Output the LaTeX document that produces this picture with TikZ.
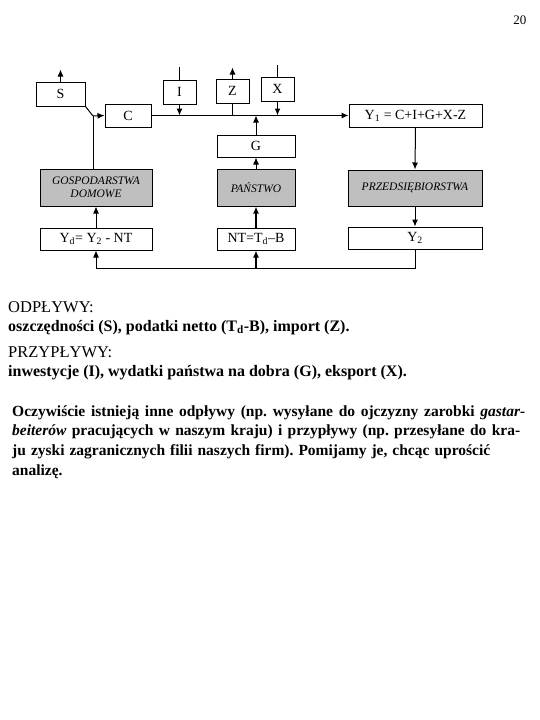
\documentclass[tikz,border=0pt]{standalone}
\usepackage{fontspec}
\setmainfont{Liberation Serif}
\usepackage{tikz}
\usetikzlibrary{arrows.meta,positioning}
\tikzset{>={Latex[length=7pt,width=6pt]}}
\frenchspacing

\begin{document}
\begin{tikzpicture}[x=1pt,y=-1pt,
                    box/.style={draw, line width=1pt, inner sep=0pt, font=\fontsize{14}{14}\selectfont},
                    sector/.style={box, fill=black!25, align=center, font=\fontsize{11.5}{13}\selectfont\itshape},
                    wire/.style={line width=1pt},
                    flow/.style={line width=1pt,->},
                    boldflow/.style={line width=1.8pt,->},
                    txt/.style={anchor=base west, inner sep=0pt, font=\fontsize{16.5}{16.5}\selectfont},
                    btxt/.style={txt, font=\fontsize{16}{16}\selectfont\bfseries},
                    ntxt/.style={txt, font=\fontsize{15.5}{16}\selectfont\bfseries},
                   ]

\useasboundingbox (0,0) rectangle (540,720);

\node[anchor=base east, font=\fontsize{13}{13}\selectfont] (page) at (530,24) {20};

% top row
\node[box, minimum width=49pt, minimum height=24pt] (S) at (60.5,94) {S};
\node[box, minimum width=46pt, minimum height=23pt] (C) at (128,115.5) {C};
\node[box, minimum width=33pt, minimum height=24pt] (I) at (179.5,92) {I};
\node[box, minimum width=33pt, minimum height=24pt] (Z) at (232.5,91) {Z};
\node[box, minimum width=33pt, minimum height=24pt] (X) at (277.5,89) {X};
\node[box, minimum width=133pt, minimum height=23pt] (Y1) at (415.5,115.5) {Y\textsubscript{1} = C+I+G+X-Z};
\node[box, minimum width=78pt, minimum height=22pt] (G) at (256,146) {G};

% sectors
\node[sector, minimum width=112pt, minimum height=37pt] (home) at (96,187.5) {GOSPODARSTWA\\DOMOWE};
\node[sector, minimum width=78pt, minimum height=37pt] (state) at (256,187.5) {PAŃSTWO};
\node[sector, minimum width=134pt, minimum height=36pt] (firms) at (415,188) {PRZEDSIĘBIORSTWA};

% bottom row
\node[box, minimum width=112pt, minimum height=22pt] (Yd) at (96,239) {Y\textsubscript{d}= Y\textsubscript{2} - NT};
\node[box, minimum width=78pt, minimum height=22pt] (NT) at (256,239) {NT=T\textsubscript{d}–B};
\node[box, minimum width=134pt, minimum height=22pt] (Y2) at (415,238) {Y\textsubscript{2}};

\coordinate (hub) at (93,116);

\draw[flow] (S.north) -- ++(0,-12);
\draw[wire] (S.south east) -- (hub);
\draw[wire] (home.north -| hub) -- (hub);
\draw[flow] (hub) -- (C.west);
\draw[flow] (C.east) -- (Y1.west);

\draw[wire] (I.north) -- ++(0,-13);
\draw[flow] (I.south) -- (I.south |- C.east);
\draw[wire] (Z.south |- C.east) -- (Z.south);
\draw[flow] (Z.north) -- ++(0,-11);
\draw[wire] (X.north) -- ++(0,-12);
\draw[boldflow] (X.south) -- (X.south |- C.east);
\draw[flow] (G.north) -- (G.north |- C.east);

\draw[flow] (state.north) -- (G.south);
\draw[boldflow] (NT.north) -- (state.south);
\draw[flow] (Yd.north) -- (home.south);
\draw[flow] (Y1.south) -- (firms.north);
\draw[flow] (firms.south) -- (Y2.north);

\draw[flow] (Y2.south) -- ++(0,19) coordinate (back) -| (Yd.south);
\draw[boldflow] (NT.south |- back) -- (NT.south);

% legend text
\node[txt] (outHead) at (8,312) {ODPŁYWY:};
\node[btxt] (outList) at (8,331) {oszczędności (S), podatki netto (T\textsubscript{d}-B), import (Z).};
\node[txt] (inHead) at (8,357) {PRZYPŁYWY:};
\node[btxt] (inList) at (8,376) {inwestycje (I), wydatki państwa na dobra (G), eksport (X).};

\node[ntxt] (note1) at (12,416) {\makebox[513pt][s]{Oczywiście istnieją inne odpływy (np. wysyłane do ojczyzny zarobki \textit{gastar-}}};
\node[ntxt] (note2) at (12,435) {\makebox[508pt][s]{\textit{beiterów} pracujących w naszym kraju) i przypływy (np. przesyłane do kra-}};
\node[ntxt] (note3) at (12,455) {\makebox[478pt][s]{ju zyski zagranicznych filii naszych firm). Pomijamy je, chcąc uprościć}};
\node[ntxt] (note4) at (12,475) {analizę.};

\end{tikzpicture}
\end{document}
